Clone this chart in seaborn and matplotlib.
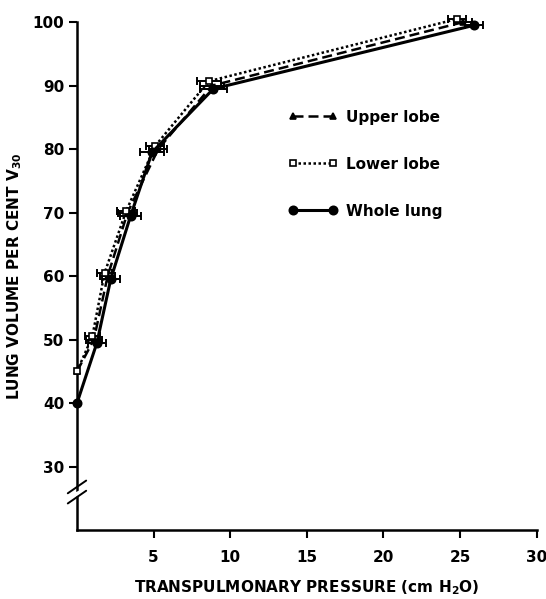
import numpy as np
import pandas as pd
import matplotlib
matplotlib.use("Agg")
import matplotlib.pyplot as plt
import seaborn as sns

# data
p_whole = [0.0, 1.3, 2.2, 3.5, 4.9, 8.9, 25.9]
v_whole = [40, 49.5, 59.5, 69.5, 79.5, 89.5, 99.5]
e_whole = [0.0, 0.6, 0.6, 0.7, 0.8, 0.9, 0.6]
p_lower = [0.0, 1.0, 1.8, 3.2, 5.1, 8.6, 24.8]
v_lower = [45, 50.5, 60.5, 70.2, 80.5, 90.7, 100.5]
e_lower = [0.0, 0.5, 0.5, 0.6, 0.6, 0.8, 0.6]
p_upper = [0.0, 1.1, 2.0, 3.3, 5.3, 8.8, 25.2]
v_upper = [45, 50, 60, 70, 80, 90, 100]
e_upper = [0.0, 0.5, 0.5, 0.6, 0.6, 0.8, 0.6]

xticks = [5, 10, 15, 20, 25, 30]
yticks = [30, 40, 50, 60, 70, 80, 90, 100]

df = pd.concat([
    pd.DataFrame({"P": p_upper, "V": v_upper, "lobe": "Upper lobe"}),
    pd.DataFrame({"P": p_lower, "V": v_lower, "lobe": "Lower lobe"}),
    pd.DataFrame({"P": p_whole, "V": v_whole, "lobe": "Whole lung"}),
])

sns.set_theme(style="ticks", rc={"text.color": "black", "axes.labelcolor": "black",
                                 "xtick.color": "black", "ytick.color": "black",
                                 "axes.edgecolor": "black"})
plt.rcParams['font.family'] = ['DejaVu Sans']
plt.rcParams['font.weight'] = 'bold'

f = plt.figure(figsize=(5.46, 5.99), dpi=100)
ax = f.add_axes([0.141, 0.115, 0.842, 0.848])

styles = {"Upper lobe": dict(ls=(0, (4, 2)), marker="^", mfc="black", ms=4, lw=1.8),
          "Lower lobe": dict(ls=(0, (1, 1)), marker="s", mfc="white", ms=5, lw=1.8),
          "Whole lung": dict(ls="-", marker="o", mfc="black", ms=6, lw=2.2)}
errs = {"Upper lobe": e_upper, "Lower lobe": e_lower, "Whole lung": e_whole}

for lobe, st in styles.items():
    sub = df[df["lobe"] == lobe]
    ax.errorbar(sub["P"], sub["V"], xerr=errs[lobe], fmt="none", ecolor="black",
                elinewidth=1.4, capsize=3, capthick=1.4, clip_on=False, zorder=2)
    sns.lineplot(data=sub, x="P", y="V", ax=ax, color="black", linestyle=st["ls"],
                 linewidth=st["lw"], marker=st["marker"], markersize=st["ms"],
                 markerfacecolor=st["mfc"], markeredgecolor="black", markeredgewidth=1.2,
                 label=lobe, clip_on=False, zorder=3, estimator=None, sort=False)

ax.set_xlim(0, 30)
ax.set_ylim(20, 100)
ax.set_xticks(xticks)
ax.set_yticks(yticks)
ax.tick_params(axis="both", direction="out", length=6, width=1.5, labelsize=11, pad=3)
ax.tick_params(axis="x", pad=8)
for lbl in ax.get_xticklabels() + ax.get_yticklabels():
    lbl.set_fontweight("bold")
sns.despine(ax=ax)
for s in ["left", "bottom"]:
    ax.spines[s].set_linewidth(1.8)

# axis break marks
for dy in (0, 1.6):
    ax.plot([-0.6, 0.6], [24.2 + dy, 26.2 + dy], color="black", lw=1.4,
            clip_on=False, zorder=5)
ax.plot([-0.25, 0.25], [25.4, 26.0], color="white", lw=3, clip_on=False, zorder=4)

ax.set_xlabel("TRANSPULMONARY PRESSURE (cm H$_\\mathbf{2}$O)", fontsize=11,
              fontweight="bold", labelpad=10)
ax.set_ylabel("LUNG VOLUME PER CENT V$_{\\mathbf{30}}$", fontsize=11,
              fontweight="bold", labelpad=6)

leg = ax.legend(loc="upper left", bbox_to_anchor=(0.43, 0.855), frameon=False,
                numpoints=2, handlelength=3.2, handletextpad=0.6, labelspacing=2.1,
                prop={"size": 11, "weight": "bold"})

plt.savefig("out.png", dpi=100)
